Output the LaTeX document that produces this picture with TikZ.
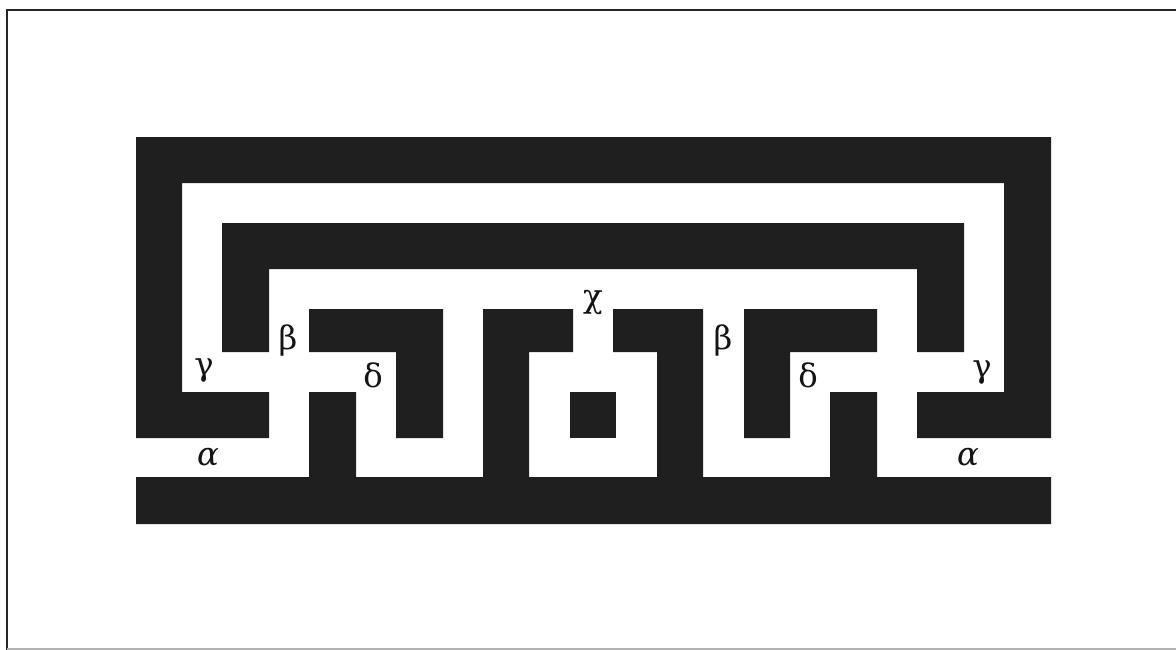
\documentclass[tikz,border=0pt]{standalone}
\usepackage{fontspec}
\setmainfont{DejaVu Serif}
\begin{document}
\begin{tikzpicture}[x=0.025cm,y=-0.025cm]
  \tikzstyle{mur}=[fill=black!88]
  \tikzstyle{lettre}=[inner sep=0pt,text=black!92,font=\fontsize{23}{27}\selectfont]
  \useasboundingbox (0,0) rectangle (1176,650);
  % Cadre
  \draw[line width=1.4pt,black!85] (7,650) -- (7,10) -- (1176,10);
  \draw[line width=0.8pt,black!30] (7,649) -- (1176,649);
  % Crochet extérieur
  \fill[mur] (136,137) -- (1051,137) -- (1051,438) -- (917,438) -- (917,392) -- (1004,392)
    -- (1004,183) -- (182,183) -- (182,392) -- (269,392) -- (269,438) -- (136,438) -- cycle;
  % Crochet intérieur
  \fill[mur] (222,223) -- (964,223) -- (964,352) -- (917,352) -- (917,269) -- (269,269)
    -- (269,352) -- (222,352) -- cycle;
  % Équerres
  \fill[mur] (309,309) -- (443,309) -- (443,438) -- (396,438) -- (396,352) -- (309,352) -- cycle;
  \fill[mur] (744,309) -- (877,309) -- (877,352) -- (790,352) -- (790,438) -- (744,438) -- cycle;
  % Peigne du bas
  \fill[mur] (136,524) -- (1051,524) -- (1051,477) -- (877,477) -- (877,392) -- (830,392)
    -- (830,477) -- (703,477) -- (703,309) -- (613,309) -- (613,352) -- (657,352)
    -- (657,477) -- (529,477) -- (529,352) -- (573,352) -- (573,309) -- (483,309)
    -- (483,477) -- (356,477) -- (356,392) -- (309,392) -- (309,477) -- (136,477) -- cycle;
  % Carré central
  \fill[mur] (570,392) rectangle (616,438);
  % Lettres
  \node[lettre] (gammaG) at (204,371) {γ};
  \node[lettre] (gammaD) at (982,373) {γ};
  \node[lettre] (betaG) at (288,340) {β};
  \node[lettre] (betaD) at (723,340) {β};
  \node[lettre] (deltaG) at (373,375) {δ};
  \node[lettre] (deltaD) at (808,375) {δ};
  \node[lettre] (chi) at (593,302) {χ};
  \node[lettre] (alphaG) at (208,457) {\itshape α};
  \node[lettre] (alphaD) at (968,457) {\itshape α};
\end{tikzpicture}
\end{document}
